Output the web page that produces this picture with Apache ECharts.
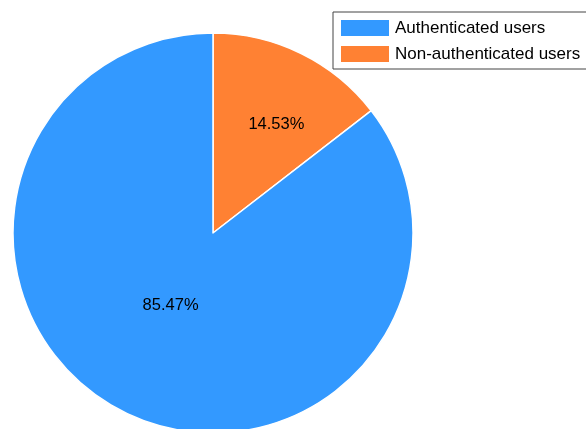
<!DOCTYPE html>
<html>
<head>
<meta charset="utf-8">
<script src="https://cdn.jsdelivr.net/npm/echarts@6/dist/echarts.min.js"></script>
<style>
  html, body { margin: 0; padding: 0; background: #fff; }
  #chart { width: 586px; height: 429px; }
</style>
</head>
<body>
<div id="chart"></div>
<script>
// Share of users by authentication status
const categories = ['Authenticated users', 'Non-authenticated users'];
const shares = [85.47, 14.53];
const sliceColors = ['#3399FF', '#FF8133'];

// Slices are drawn clockwise from 12 o'clock, smaller share first
const drawOrder = [1, 0];
// Nudge for each in-slice label, by category index
const labelNudge = [[3, -20], [18, -16]];

const chart = echarts.init(document.getElementById('chart'), null, { renderer: 'canvas' });

chart.setOption({
  animation: false,
  backgroundColor: '#ffffff',
  legend: {
    data: categories,
    orient: 'vertical',
    left: 333,
    top: 12,
    padding: [6, 14, 5, 6],
    itemGap: 6,
    itemWidth: 50,
    itemHeight: 18,
    icon: 'rect',
    borderColor: '#444',
    borderWidth: 1,
    borderRadius: 0,
    textStyle: { fontFamily: 'Liberation Sans, Arial, sans-serif', fontSize: 17, color: '#000' },
    selectedMode: false
  },
  series: [{
    type: 'pie',
    center: [213, 233],
    radius: [0, 200],
    startAngle: 90,
    clockwise: true,
    avoidLabelOverlap: false,
    itemStyle: { borderColor: '#fff', borderWidth: 1.5 },
    label: {
      show: true,
      position: 'inside',
      formatter: p => p.value.toFixed(2) + '%',
      fontFamily: 'Liberation Sans, Arial, sans-serif',
      fontSize: 16.5,
      color: '#000'
    },
    labelLayout: function (params) {
      const idx = drawOrder[params.dataIndex];
      return { dx: labelNudge[idx][0], dy: labelNudge[idx][1] };
    },
    emphasis: { disabled: true },
    data: drawOrder.map(i => ({
      name: categories[i],
      value: shares[i],
      itemStyle: { color: sliceColors[i] }
    }))
  }]
});
</script>
</body>
</html>
